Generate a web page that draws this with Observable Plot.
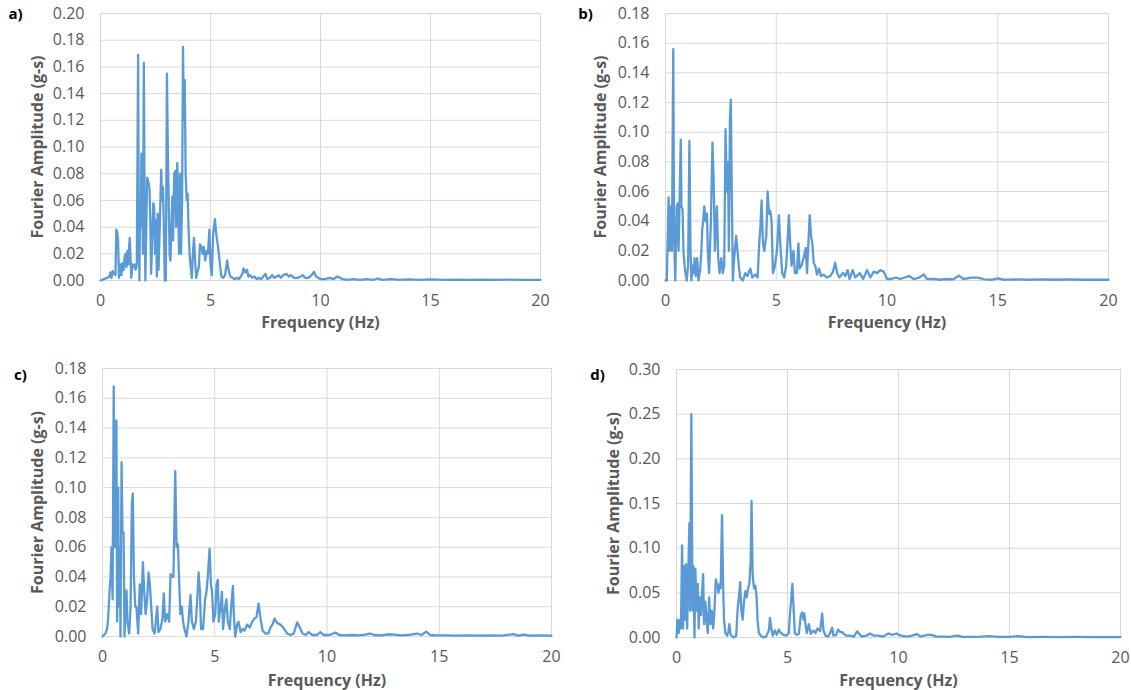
<!DOCTYPE html>
<html>
<head>
<meta charset="utf-8">
<script src="https://cdn.jsdelivr.net/npm/d3@7"></script>
<script src="https://cdn.jsdelivr.net/npm/@observablehq/plot@0.6"></script>
<style>
  html, body { margin: 0; padding: 0; background: #fff; }
  #wrap { position: relative; width: 1131px; height: 690px; background: #fff; }
  .cell { position: absolute; }
</style>
</head>
<body>
<div id="wrap">
  <div class="cell" id="pa" style="left:0;top:0"></div>
  <div class="cell" id="pb" style="left:565px;top:0"></div>
  <div class="cell" id="pc" style="left:0;top:345px"></div>
  <div class="cell" id="pd" style="left:565px;top:345px"></div>
</div>
<script>
// ---------- data (frequency Hz, Fourier amplitude g-s) ----------
const spectrumA = [[0,0],[0.15,0.001],[0.3,0.002],[0.4,0.003],[0.45,0.006],[0.5,0.002],[0.55,0.007],[0.62,0.005],[0.68,0.004],[0.72,0.038],[0.76,0.036],[0.8,0.03],[0.84,0.002],[0.9,0.012],[0.95,0.004],[1.0,0.013],[1.05,0.008],[1.1,0.018],[1.14,0.02],[1.18,0.01],[1.22,0.022],[1.26,0.012],[1.3,0.025],[1.33,0.032],[1.37,0.015],[1.4,0.002],[1.45,0.012],[1.5,0.01],[1.55,0.012],[1.6,0.008],[1.65,0.012],[1.71,0.169],[1.74,0.04],[1.77,0.0],[1.8,0.06],[1.83,0.04],[1.86,0.095],[1.9,0.06],[1.93,0.02],[1.97,0.163],[2.01,0.04],[2.04,0.0],[2.08,0.04],[2.12,0.077],[2.16,0.075],[2.2,0.072],[2.23,0.068],[2.27,0.04],[2.3,0.005],[2.35,0.03],[2.4,0.058],[2.44,0.055],[2.48,0.02],[2.52,0.045],[2.56,0.003],[2.6,0.05],[2.64,0.008],[2.7,0.045],[2.76,0.083],[2.8,0.06],[2.84,0.07],[2.88,0.04],[2.92,0.0],[2.97,0.0],[3.02,0.155],[3.06,0.098],[3.1,0.06],[3.14,0.02],[3.18,0.015],[3.22,0.04],[3.27,0.063],[3.3,0.03],[3.35,0.08],[3.4,0.082],[3.44,0.04],[3.49,0.088],[3.53,0.06],[3.57,0.02],[3.62,0.08],[3.66,0.02],[3.71,0.06],[3.75,0.175],[3.79,0.12],[3.83,0.15],[3.87,0.08],[3.92,0.06],[3.96,0.065],[4.0,0.04],[4.05,0.02],[4.1,0.01],[4.15,0.002],[4.2,0.02],[4.25,0.032],[4.3,0.015],[4.35,0.002],[4.4,0.006],[4.47,0.01],[4.52,0.027],[4.58,0.026],[4.64,0.02],[4.7,0.025],[4.76,0.015],[4.82,0.022],[4.88,0.02],[4.95,0.038],[5.0,0.012],[5.06,0.004],[5.12,0.035],[5.2,0.046],[5.26,0.035],[5.32,0.028],[5.38,0.02],[5.44,0.01],[5.5,0.003],[5.58,0.002],[5.66,0.004],[5.76,0.015],[5.82,0.008],[5.9,0.003],[6.0,0.002],[6.1,0.001],[6.2,0.002],[6.3,0.001],[6.45,0.005],[6.5,0.009],[6.58,0.006],[6.66,0.008],[6.72,0.003],[6.8,0.004],[6.9,0.002],[7.0,0.003],[7.1,0.001],[7.2,0.002],[7.3,0.001],[7.4,0.003],[7.5,0.005],[7.58,0.001],[7.7,0.002],[7.8,0.004],[7.9,0.002],[8.0,0.003],[8.1,0.004],[8.2,0.002],[8.3,0.004],[8.45,0.005],[8.55,0.003],[8.65,0.004],[8.8,0.002],[8.95,0.002],[9.1,0.003],[9.2,0.004],[9.3,0.002],[9.45,0.002],[9.6,0.004],[9.7,0.0065],[9.8,0.003],[9.9,0.002],[10.0,0.001],[10.2,0.001],[10.4,0.002],[10.6,0.001],[10.75,0.003],[10.9,0.002],[11.0,0.001],[11.2,0.0005],[11.5,0.001],[11.8,0.0005],[12.1,0.001],[12.4,0.0005],[12.6,0.0015],[12.8,0.0005],[13.2,0.001],[13.6,0.0005],[14.0,0.0008],[14.5,0.0005],[15.0,0.0008],[15.6,0.0005],[16.2,0.0007],[16.8,0.0005],[17.4,0.0007],[18.0,0.0005],[18.6,0.0006],[19.2,0.0005],[20.0,0.0005]];

const spectrumB = [[0,0],[0.06,0.0],[0.1,0.03],[0.14,0.056],[0.18,0.02],[0.22,0.03],[0.25,0.05],[0.29,0.02],[0.35,0.156],[0.39,0.03],[0.44,0.0],[0.48,0.03],[0.51,0.05],[0.55,0.052],[0.59,0.02],[0.63,0.05],[0.69,0.095],[0.72,0.05],[0.77,0.048],[0.81,0.02],[0.86,0.01],[0.9,0.005],[0.96,0.0],[1.02,0.01],[1.08,0.094],[1.13,0.02],[1.17,0.0],[1.23,0.01],[1.28,0.005],[1.31,0.015],[1.37,0.003],[1.43,0.015],[1.49,0.0],[1.57,0.008],[1.62,0.02],[1.66,0.035],[1.7,0.04],[1.75,0.05],[1.81,0.04],[1.87,0.045],[1.91,0.02],[1.97,0.005],[2.05,0.04],[2.12,0.093],[2.17,0.07],[2.23,0.02],[2.28,0.04],[2.32,0.05],[2.38,0.015],[2.44,0.005],[2.52,0.015],[2.59,0.005],[2.65,0.01],[2.71,0.102],[2.77,0.06],[2.82,0.08],[2.86,0.02],[2.91,0.11],[2.95,0.122],[3.0,0.05],[3.04,0.0],[3.1,0.015],[3.19,0.03],[3.25,0.02],[3.31,0.01],[3.37,0.002],[3.49,0.0],[3.6,0.005],[3.7,0.003],[3.77,0.006],[3.83,0.008],[3.92,0.002],[4.05,0.004],[4.16,0.002],[4.23,0.025],[4.28,0.035],[4.34,0.054],[4.4,0.025],[4.46,0.02],[4.55,0.03],[4.61,0.06],[4.67,0.045],[4.73,0.047],[4.79,0.04],[4.85,0.005],[4.94,0.01],[5.03,0.02],[5.12,0.044],[5.18,0.025],[5.27,0.005],[5.36,0.002],[5.45,0.01],[5.57,0.044],[5.63,0.025],[5.69,0.01],[5.78,0.02],[5.84,0.005],[5.93,0.005],[6.0,0.025],[6.05,0.008],[6.14,0.01],[6.23,0.015],[6.33,0.022],[6.39,0.005],[6.45,0.025],[6.51,0.044],[6.57,0.03],[6.63,0.025],[6.69,0.012],[6.76,0.01],[6.84,0.004],[6.93,0.008],[7.02,0.003],[7.14,0.004],[7.29,0.002],[7.44,0.003],[7.56,0.006],[7.66,0.012],[7.75,0.005],[7.85,0.002],[8.01,0.005],[8.12,0.003],[8.22,0.007],[8.31,0.001],[8.45,0.007],[8.57,0.002],[8.77,0.005],[8.92,0.001],[9.1,0.007],[9.25,0.002],[9.4,0.006],[9.55,0.005],[9.7,0.007],[9.85,0.006],[10.0,0.001],[10.2,0.001],[10.4,0.002],[10.6,0.001],[10.8,0.002],[11.0,0.003],[11.2,0.001],[11.45,0.002],[11.67,0.004],[11.8,0.001],[12.1,0.001],[12.4,0.0005],[12.7,0.001],[13.0,0.0008],[13.25,0.0033],[13.45,0.001],[13.8,0.002],[14.1,0.002],[14.4,0.0008],[14.7,0.0005],[15.0,0.0015],[15.3,0.0005],[15.8,0.0007],[16.4,0.0005],[17.0,0.0008],[17.6,0.0005],[18.2,0.0007],[18.8,0.0005],[19.4,0.0006],[20.0,0.0005]];

const spectrumC = [[0,0],[0.13,0.002],[0.2,0.005],[0.24,0.01],[0.28,0.02],[0.31,0.03],[0.36,0.04],[0.4,0.06],[0.45,0.025],[0.5,0.168],[0.55,0.06],[0.58,0.145],[0.62,0.145],[0.65,0.01],[0.7,0.1],[0.73,0.02],[0.77,0.06],[0.8,0.0],[0.85,0.117],[0.89,0.07],[0.94,0.07],[0.98,0.0],[1.02,0.02],[1.07,0.031],[1.11,0.01],[1.19,0.002],[1.25,0.02],[1.31,0.09],[1.35,0.096],[1.4,0.04],[1.46,0.02],[1.51,0.02],[1.59,0.002],[1.66,0.035],[1.72,0.015],[1.8,0.05],[1.86,0.03],[1.92,0.015],[1.99,0.025],[2.05,0.043],[2.11,0.035],[2.17,0.02],[2.23,0.005],[2.32,0.002],[2.44,0.02],[2.49,0.003],[2.58,0.005],[2.67,0.012],[2.73,0.029],[2.79,0.01],[2.88,0.015],[2.97,0.01],[3.03,0.042],[3.1,0.04],[3.16,0.04],[3.24,0.111],[3.3,0.06],[3.36,0.062],[3.42,0.035],[3.47,0.015],[3.53,0.02],[3.59,0.01],[3.65,0.005],[3.74,0.0],[3.83,0.01],[3.92,0.028],[3.98,0.01],[4.07,0.005],[4.16,0.01],[4.22,0.025],[4.28,0.043],[4.34,0.03],[4.39,0.005],[4.48,0.005],[4.57,0.025],[4.63,0.03],[4.69,0.04],[4.77,0.059],[4.83,0.035],[4.88,0.03],[4.94,0.01],[5.02,0.015],[5.08,0.035],[5.14,0.038],[5.18,0.01],[5.26,0.02],[5.32,0.03],[5.37,0.005],[5.46,0.02],[5.52,0.025],[5.58,0.01],[5.67,0.005],[5.73,0.02],[5.81,0.034],[5.85,0.015],[5.91,0.0],[6.0,0.008],[6.06,0.01],[6.15,0.003],[6.24,0.005],[6.33,0.004],[6.44,0.008],[6.56,0.006],[6.67,0.01],[6.77,0.012],[6.86,0.013],[6.95,0.022],[7.04,0.012],[7.13,0.004],[7.25,0.002],[7.39,0.002],[7.48,0.006],[7.57,0.008],[7.66,0.012],[7.78,0.009],[7.93,0.008],[8.05,0.006],[8.23,0.002],[8.37,0.001],[8.52,0.002],[8.67,0.0095],[8.79,0.006],[8.91,0.002],[9.06,0.001],[9.18,0.003],[9.35,0.001],[9.56,0.001],[9.7,0.003],[9.85,0.001],[10.05,0.001],[10.2,0.0015],[10.38,0.0027],[10.55,0.001],[10.8,0.0008],[11.1,0.001],[11.4,0.0008],[11.7,0.0012],[11.9,0.002],[12.1,0.001],[12.4,0.0008],[12.7,0.0015],[13.0,0.0012],[13.3,0.0008],[13.6,0.001],[14.0,0.002],[14.2,0.001],[14.42,0.0033],[14.6,0.001],[14.9,0.0008],[15.3,0.0008],[15.8,0.0006],[16.3,0.0008],[16.8,0.0006],[17.3,0.0008],[17.8,0.0006],[18.3,0.0016],[18.5,0.0006],[18.75,0.0012],[19.0,0.0006],[19.4,0.0008],[20.0,0.0005]];

const spectrumD = [[0,0],[0.04,0.02],[0.1,0.005],[0.16,0.02],[0.2,0.01],[0.25,0.103],[0.3,0.01],[0.34,0.08],[0.39,0.02],[0.43,0.082],[0.48,0.01],[0.52,0.06],[0.58,0.128],[0.61,0.03],[0.67,0.25],[0.72,0.03],[0.76,0.08],[0.81,0.0],[0.85,0.077],[0.9,0.03],[0.96,0.06],[1.0,0.01],[1.05,0.045],[1.11,0.025],[1.15,0.05],[1.2,0.071],[1.24,0.015],[1.3,0.04],[1.35,0.02],[1.41,0.005],[1.47,0.045],[1.53,0.015],[1.59,0.03],[1.65,0.01],[1.71,0.03],[1.77,0.065],[1.83,0.06],[1.89,0.05],[1.95,0.06],[1.99,0.055],[2.05,0.137],[2.1,0.06],[2.14,0.02],[2.2,0.005],[2.28,0.002],[2.34,0.007],[2.38,0.015],[2.44,0.003],[2.57,0.0],[2.69,0.002],[2.75,0.03],[2.81,0.045],[2.87,0.062],[2.92,0.03],[2.98,0.02],[3.04,0.04],[3.1,0.052],[3.16,0.045],[3.22,0.055],[3.28,0.06],[3.34,0.085],[3.38,0.153],[3.43,0.07],[3.49,0.055],[3.55,0.058],[3.61,0.045],[3.65,0.02],[3.71,0.005],[3.8,0.002],[3.92,0.0],[4.04,0.001],[4.16,0.008],[4.21,0.022],[4.27,0.01],[4.34,0.002],[4.43,0.008],[4.52,0.003],[4.61,0.009],[4.7,0.005],[4.82,0.003],[4.94,0.002],[5.06,0.005],[5.12,0.03],[5.16,0.04],[5.22,0.06],[5.27,0.035],[5.33,0.005],[5.42,0.003],[5.51,0.004],[5.6,0.025],[5.66,0.028],[5.72,0.02],[5.76,0.027],[5.81,0.015],[5.87,0.005],[5.96,0.015],[6.05,0.004],[6.17,0.008],[6.26,0.005],[6.35,0.01],[6.47,0.007],[6.56,0.027],[6.62,0.008],[6.71,0.002],[6.83,0.001],[6.92,0.005],[7.01,0.011],[7.07,0.002],[7.19,0.003],[7.28,0.009],[7.37,0.006],[7.46,0.006],[7.54,0.004],[7.66,0.002],[7.81,0.002],[7.99,0.001],[8.14,0.007],[8.23,0.004],[8.35,0.001],[8.56,0.002],[8.71,0.0045],[8.89,0.002],[9.09,0.002],[9.31,0.001],[9.54,0.0045],[9.73,0.003],[9.91,0.0045],[10.1,0.002],[10.4,0.001],[10.6,0.002],[10.84,0.0037],[11.0,0.001],[11.3,0.003],[11.5,0.003],[11.7,0.001],[12.0,0.001],[12.3,0.0008],[12.64,0.002],[12.9,0.0008],[13.3,0.0008],[13.7,0.001],[14.1,0.0015],[14.5,0.0008],[15.0,0.0008],[15.4,0.0015],[15.8,0.0005],[16.5,0.0006],[17.2,0.0005],[18.0,0.0006],[18.8,0.0005],[20.0,0.0005]];

// ---------- tick labels ----------
const xTicks = [0, 5, 10, 15, 20];
const yTicksA = [0, 0.02, 0.04, 0.06, 0.08, 0.10, 0.12, 0.14, 0.16, 0.18, 0.20];
const yTicksB = [0, 0.02, 0.04, 0.06, 0.08, 0.10, 0.12, 0.14, 0.16, 0.18];
const yTicksC = [0, 0.02, 0.04, 0.06, 0.08, 0.10, 0.12, 0.14, 0.16, 0.18];
const yTicksD = [0, 0.05, 0.10, 0.15, 0.20, 0.25, 0.30];
const panelLabels = ["a)", "b)", "c)", "d)"];
const xTitle = "Frequency (Hz)";
const yTitle = "Fourier Amplitude (g-s)";

// ---------- drawing ----------
const GRID = "#d9d9d9";
const TEXT = "#595959";
const LINE = "#5b9bd5";

function panel(cfg) {
  return Plot.plot({
    width: cfg.width, height: cfg.height,
    marginLeft: cfg.ml, marginRight: cfg.mr, marginTop: cfg.mt, marginBottom: cfg.mb,
    style: {fontFamily: "'Open Sans', sans-serif", fontSize: "16px", color: TEXT, background: "white", overflow: "visible"},
    x: {domain: [0, 20]},
    y: {domain: [0, cfg.yTicks[cfg.yTicks.length - 1]]},
    marks: [
      Plot.gridX(xTicks, {stroke: GRID, strokeOpacity: 1, strokeWidth: 1}),
      Plot.gridY(cfg.yTicks, {stroke: GRID, strokeOpacity: 1, strokeWidth: 1}),
      Plot.axisX(xTicks, {tickSize: 0, tickPadding: 14, label: null, fill: TEXT, fontSize: 16}),
      Plot.axisY(cfg.yTicks, {tickSize: 0, tickPadding: 16, tickFormat: d3.format(".2f"), label: null, fill: TEXT, fontSize: 16}),
      Plot.line(cfg.data, {x: d => d[0], y: d => d[1], stroke: LINE, strokeWidth: 2.3, strokeLinejoin: "round"}),
      Plot.text([xTitle], {text: d => d, frameAnchor: "bottom", textAnchor: "middle", lineAnchor: "middle", dy: cfg.xdy, fontWeight: "bold", fontSize: 16, fill: TEXT}),
      Plot.text([yTitle], {text: d => d, frameAnchor: "left", textAnchor: "middle", lineAnchor: "middle", rotate: -90, dx: cfg.ydx, fontWeight: "bold", fontSize: 16, fill: TEXT}),
      Plot.text([cfg.label], {text: d => d, frameAnchor: "top-left", textAnchor: "middle", lineAnchor: "middle", dx: cfg.ldx, dy: cfg.ldy, fontWeight: "bold", fontSize: 15, fill: "#000"})
    ]
  });
}

document.getElementById("pa").append(panel({data: spectrumA, yTicks: yTicksA, label: panelLabels[0],
  width: 565, height: 345, ml: 100, mr: 25, mt: 13, mb: 65, xdy: 42, ydx: -63, ldx: -85, ldy: 1}));
document.getElementById("pb").append(panel({data: spectrumB, yTicks: yTicksB, label: panelLabels[1],
  width: 566, height: 345, ml: 100, mr: 23, mt: 13, mb: 65, xdy: 42, ydx: -65, ldx: -80, ldy: 1}));
document.getElementById("pc").append(panel({data: spectrumC, yTicks: yTicksC, label: panelLabels[2],
  width: 565, height: 345, ml: 102, mr: 14, mt: 23, mb: 54, xdy: 44, ydx: -65, ldx: -82, ldy: 7}));
document.getElementById("pd").append(panel({data: spectrumD, yTicks: yTicksD, label: panelLabels[3],
  width: 566, height: 345, ml: 111, mr: 11, mt: 24, mb: 53, xdy: 43, ydx: -63, ldx: -79, ldy: 6}));
</script>
</body>
</html>
